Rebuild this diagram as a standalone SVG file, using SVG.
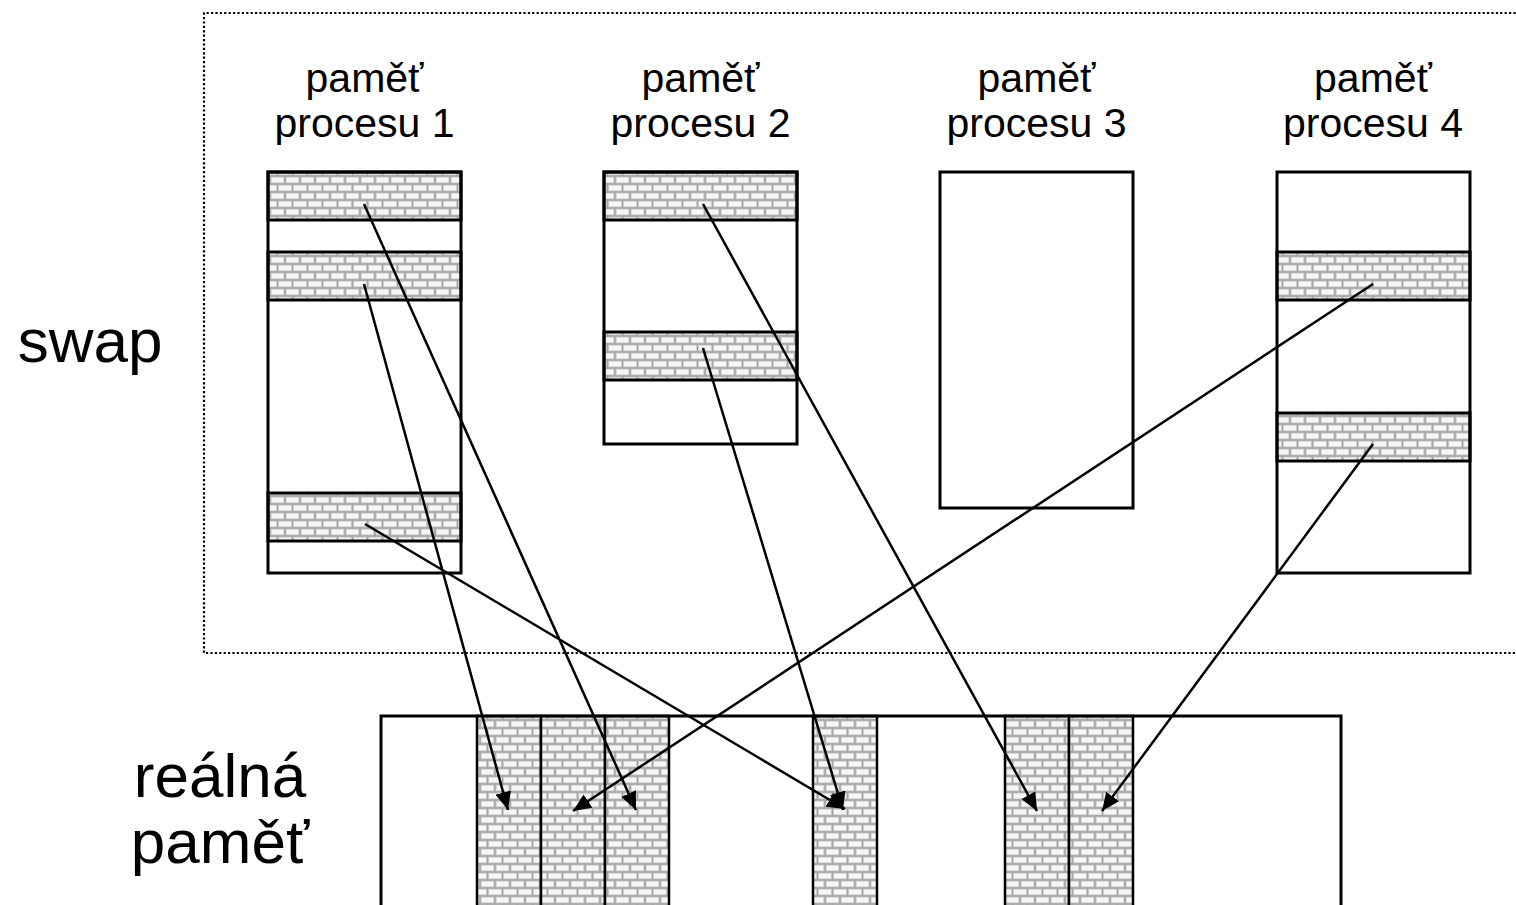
<svg xmlns="http://www.w3.org/2000/svg" width="1516" height="905" viewBox="0 0 1516 905">
<style>
  .lbl { font-family: "Liberation Sans", Arial, sans-serif; fill: #000; text-anchor: middle; }
  .sm { font-size: 41px; }
  .big { font-size: 62px; }
  .box { fill: none; stroke: #000; stroke-width: 3; }
  .band { fill: url(#brick); stroke: #000; stroke-width: 3; }
  .col { fill: url(#brick); stroke: #000; stroke-width: 2.5; }
  .arr { stroke: #000; stroke-width: 2.5; fill: none; marker-end: url(#ah); }
</style>
<defs>
  <pattern id="brick" width="15" height="16" patternUnits="userSpaceOnUse">
    <rect width="15" height="16" fill="#a4a4a4"/>
    <rect x="1.2" y="1.2" width="12.6" height="5.6" fill="#f6f6f6" stroke="#d4d4d4" stroke-width="0.8"/>
    <rect x="-6.3" y="9.2" width="12.6" height="5.6" fill="#f6f6f6" stroke="#d4d4d4" stroke-width="0.8"/>
    <rect x="8.7" y="9.2" width="12.6" height="5.6" fill="#f6f6f6" stroke="#d4d4d4" stroke-width="0.8"/>
  </pattern>
  <marker id="ah" markerUnits="userSpaceOnUse" markerWidth="20" markerHeight="16" refX="18" refY="8" orient="auto">
    <path d="M0,0 L18,8 L0,16 Z" fill="#000"/>
  </marker>
</defs>
<rect width="1516" height="905" fill="#fff"/>

<g id="swap-area">
  <path d="M1520,13 L204,13 L204,653 L1520,653" fill="none" stroke="#000" stroke-width="2.2" stroke-dasharray="2.2 2.2"/>
  <text class="lbl big" x="90" y="362">swap</text>
</g>

<g id="proc1">
  <text class="lbl sm" x="364.5" y="92">paměť</text>
  <text class="lbl sm" x="364.5" y="137">procesu 1</text>
  <rect class="band" x="268" y="172" width="193" height="48"/>
  <rect class="band" x="268" y="252" width="193" height="48"/>
  <rect class="band" x="268" y="493" width="193" height="48"/>
  <rect class="box" x="268" y="172" width="193" height="401"/>
</g>

<g id="proc2">
  <text class="lbl sm" x="700.5" y="92">paměť</text>
  <text class="lbl sm" x="700.5" y="137">procesu 2</text>
  <rect class="band" x="604" y="172" width="193" height="48"/>
  <rect class="band" x="604" y="332" width="193" height="48"/>
  <rect class="box" x="604" y="172" width="193" height="272"/>
</g>

<g id="proc3">
  <text class="lbl sm" x="1036.5" y="92">paměť</text>
  <text class="lbl sm" x="1036.5" y="137">procesu 3</text>
  <rect class="box" x="940" y="172" width="193" height="336"/>
</g>

<g id="proc4">
  <text class="lbl sm" x="1373" y="92">paměť</text>
  <text class="lbl sm" x="1373" y="137">procesu 4</text>
  <rect class="band" x="1277" y="252" width="193" height="48"/>
  <rect class="band" x="1277" y="413" width="193" height="48"/>
  <rect class="box" x="1277" y="172" width="193" height="401"/>
</g>

<g id="real-memory">
  <text class="lbl big" x="220" y="797">reálná</text>
  <text class="lbl big" x="220" y="863">paměť</text>
  <rect class="col" x="477" y="716" width="64" height="200"/>
  <rect class="col" x="541" y="716" width="64" height="200"/>
  <rect class="col" x="605" y="716" width="64" height="200"/>
  <rect class="col" x="813" y="716" width="64" height="200"/>
  <rect class="col" x="1005" y="716" width="64" height="200"/>
  <rect class="col" x="1069" y="716" width="64" height="200"/>
  <rect class="box" x="381" y="716" width="960" height="200"/>
</g>

<g id="connectors">
  <line class="arr" x1="364" y1="204" x2="636" y2="810"/>
  <line class="arr" x1="364" y1="284" x2="508" y2="810"/>
  <line class="arr" x1="365" y1="524" x2="845" y2="809"/>
  <line class="arr" x1="703" y1="204" x2="1037" y2="811"/>
  <line class="arr" x1="703" y1="348" x2="843" y2="810"/>
  <line class="arr" x1="1373" y1="284" x2="573" y2="811"/>
  <line class="arr" x1="1373" y1="444" x2="1102" y2="811"/>
</g>
</svg>
